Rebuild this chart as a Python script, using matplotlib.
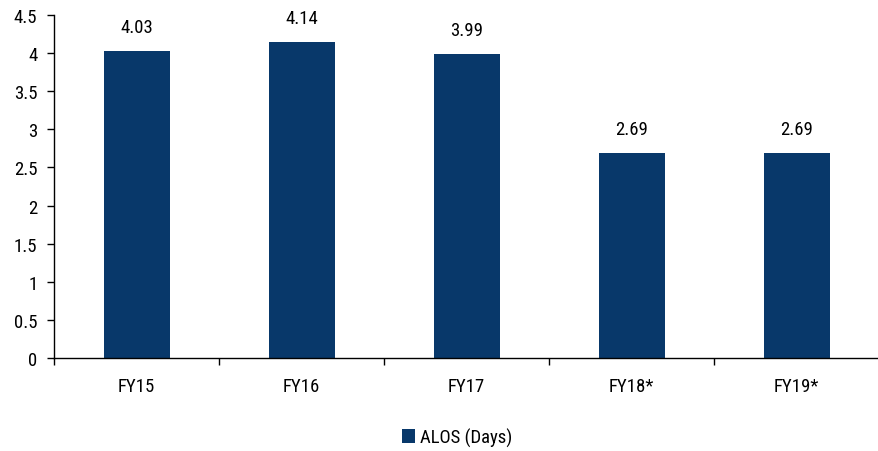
import matplotlib.pyplot as plt
import numpy as np

years = ["FY15", "FY16", "FY17", "FY18*", "FY19*"]
alos_days = [4.03, 4.14, 3.99, 2.69, 2.69]
series_name = "ALOS (Days)"

plt.rcParams["font.family"] = ["Roboto Condensed", "Liberation Sans Narrow", "Roboto", "DejaVu Sans"]
plt.rcParams["font.stretch"] = "condensed"
plt.rcParams["font.size"] = 13.5

navy = "#08386a"

fig = plt.figure(figsize=(8.79, 4.52), dpi=100)
ax = fig.add_axes([54 / 879, 1 - 359 / 452, 1 - 54 / 879, (359 - 16) / 452])

x = np.arange(len(years))
bars = ax.bar(x, alos_days, width=0.4, color=navy, label=series_name, zorder=2)

for rect, v in zip(bars, alos_days):
    ax.text(rect.get_x() + rect.get_width() / 2, v + 0.2, f"{v:.2f}",
            ha="center", va="bottom", fontsize=13.5)

ax.set_xlim(-0.5, len(years) - 0.5)
ax.set_ylim(0, 4.5)
ax.set_yticks(np.arange(0, 4.51, 0.5))
ax.set_yticklabels([f"{t:g}" for t in np.arange(0, 4.51, 0.5)])

# category labels centred, tick marks on the boundaries
ax.set_xticks(x)
ax.set_xticklabels(years)
ax.tick_params(axis="x", length=0, pad=14)
ax.set_xticks(np.arange(-0.5, len(years)), minor=True)
ax.tick_params(axis="x", which="minor", length=5, direction="out", width=1)
ax.tick_params(axis="y", length=5, direction="out", width=1, pad=7)
ax.tick_params(labelsize=13.5)

for side in ("top", "right"):
    ax.spines[side].set_visible(False)
ax.spines["left"].set_linewidth(1)
ax.spines["bottom"].set_linewidth(1)

fig.legend(loc="lower center", bbox_to_anchor=(0.52, -0.028), frameon=False,
           handlelength=0.7, handleheight=0.7, handletextpad=0.3, fontsize=13.5)

fig.savefig("out.png", dpi=100)
